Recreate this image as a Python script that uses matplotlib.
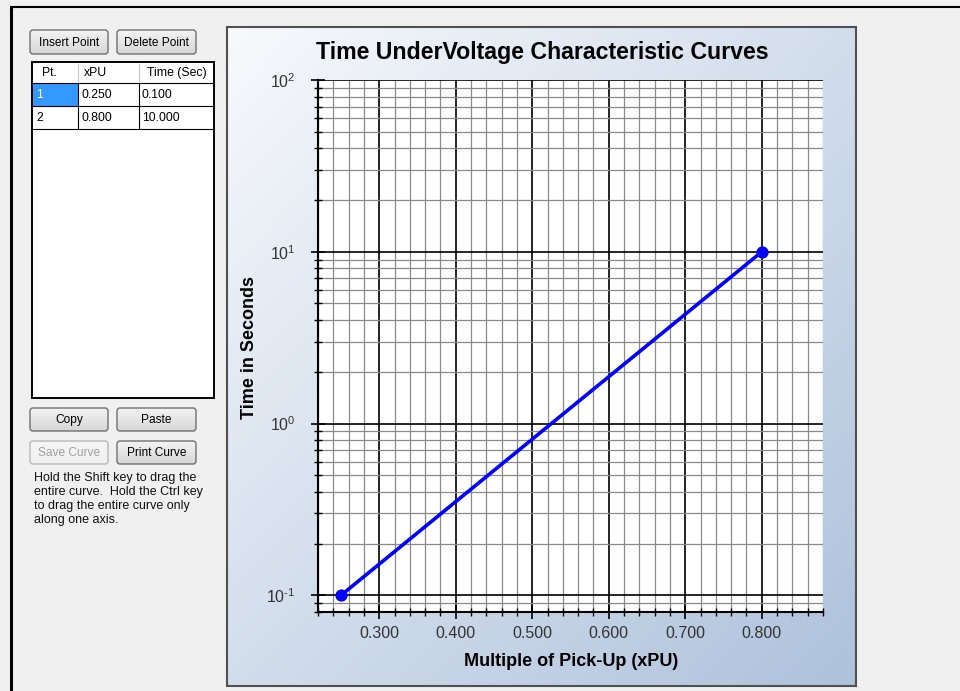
import numpy as np
import matplotlib
matplotlib.use("Agg")
import matplotlib.pyplot as plt
from matplotlib.patches import Rectangle, FancyBboxPatch
from matplotlib.colors import to_rgb
from matplotlib.ticker import FixedLocator, MultipleLocator, LogLocator, NullFormatter

plt.rcParams["font.family"] = ["Liberation Sans", "DejaVu Sans"]
plt.rcParams["mathtext.fontset"] = "custom"
plt.rcParams["mathtext.rm"] = "Liberation Sans"
plt.rcParams["mathtext.it"] = "Liberation Sans:italic"
plt.rcParams["mathtext.bf"] = "Liberation Sans:bold"

# curve points (the same ones listed in the table)
point_ids = [1, 2]
xpu = [0.250, 0.800]
seconds = [0.100, 10.000]

table_headers = ["Pt.", "xPU", "Time (Sec)"]
x_ticks = [0.3, 0.4, 0.5, 0.6, 0.7, 0.8]
x_tick_labels = ["0.300", "0.400", "0.500", "0.600", "0.700", "0.800"]
y_ticks = [0.1, 1, 10, 100]
y_tick_labels = [r"$10^{\text{-1}}$", r"$10^{0}$", r"$10^{1}$", r"$10^{2}$"]
x_limits = (0.22, 0.88)
y_limits = (0.08, 100)

title = "Time UnderVoltage Characteristic Curves"
x_label = "Multiple of Pick-Up (xPU)"
y_label = "Time in Seconds"
hint_lines = [
    "Hold the Shift key to drag the",
    "entire curve.  Hold the Ctrl key",
    "to drag the entire curve only",
    "along one axis.",
]

W, H = 960, 691
fig = plt.figure(figsize=(W / 100, H / 100), dpi=100, facecolor="#f0f0f0")

# pixel-space layer for the window decorations
ui = fig.add_axes([0, 0, 1, 1], zorder=0)
ui.axis("off")


def gradient(x0, y0, w, h, c0, c1, diagonal=True):
    c0, c1 = np.array(to_rgb(c0)), np.array(to_rgb(c1))
    u = np.linspace(0, 1, 64)
    if diagonal:
        t = (u[None, :] + u[:, None]) / 2
    else:
        t = np.repeat(u[:, None], 64, axis=1)
    img = c0 + (c1 - c0) * t[..., None]
    return ui.imshow(img, extent=(x0, x0 + w, y0 + h, y0), origin="upper",
                     aspect="auto", interpolation="bilinear", zorder=1)


def button(x, y, w, h, label, enabled=True):
    edge = "#707070" if enabled else "#b8b8b8"
    box = FancyBboxPatch((x, y), w, h, boxstyle="round,pad=0,rounding_size=3",
                         fc="none", ec=edge, lw=1, zorder=3)
    ui.add_patch(box)
    if enabled:
        im = gradient(x, y, w, h, "#f4f4f4", "#d6d6d6", diagonal=False)
    else:
        im = gradient(x, y, w, h, "#f6f6f6", "#f0f0f0", diagonal=False)
    im.set_clip_path(box)
    ui.text(x + w / 2, y + h / 2 + 0.5, label, ha="center", va="center",
            fontsize=8.6, color="#000000" if enabled else "#a0a0a0", zorder=4)


# outer window frame
ui.plot([10, 960], [7, 7], color="black", lw=1.5, solid_capstyle="butt", zorder=2)
ui.plot([11, 11], [7, 691], color="black", lw=2.2, solid_capstyle="butt", zorder=2)

# buttons
button(30, 30, 78, 24, "Insert Point")
button(117, 30, 79, 24, "Delete Point")
button(30, 408, 78, 23, "Copy")
button(117, 408, 79, 23, "Paste")
button(30, 441, 78, 23, "Save Curve", enabled=False)
button(117, 441, 79, 23, "Print Curve")

# point table
tx0, tx1, ty0, ty1 = 32, 214, 62, 398
col_x = [tx0, 78, 139, tx1]
row_y = [62, 83, 106, 129]
ui.add_patch(Rectangle((tx0, ty0), tx1 - tx0, ty1 - ty0, fc="white", ec="black", lw=1.4, zorder=2))
ui.add_patch(Rectangle((33, 84), 45, 22, fc="#3399ff", ec="none", zorder=2))
for cx in col_x[1:3]:
    ui.plot([cx, cx], [row_y[0] + 2, row_y[1]], color="#c8c8c8", lw=0.8, zorder=3)
    ui.plot([cx, cx], [row_y[1], row_y[3]], color="black", lw=0.8, zorder=3)
for ry in row_y[1:]:
    ui.plot([tx0, tx1], [ry, ry], color="black", lw=0.8, zorder=3)
header_x = [42, 84, 147]
for hx, txt in zip(header_x, table_headers):
    ui.text(hx, 73, txt, ha="left", va="center", fontsize=8.8, zorder=4)
for i, (pid, xv, tv) in enumerate(zip(point_ids, xpu, seconds)):
    yc = (row_y[i + 1] + row_y[i + 2]) / 2
    ui.text(36, yc, str(pid), ha="left", va="center", fontsize=8.8,
            color="white" if i == 0 else "black", zorder=4)
    ui.text(81, yc, f"{xv:.3f}", ha="left", va="center", fontsize=8.8, zorder=4)
    ui.text(142, yc, f"{tv:.3f}", ha="left", va="center", fontsize=8.8, zorder=4)

for i, line in enumerate(hint_lines):
    ui.text(34, 477.5 + i * 14.3, line, ha="left", va="center", fontsize=9, color="#111111")

# chart panel with gradient background
gradient(227, 27, 629, 659, "#f7f9fc", "#aec2dc")
ui.add_patch(Rectangle((227, 27), 629, 659, fc="none", ec="#505050", lw=1.5, zorder=3))

ui.text(542, 52, title, ha="center", va="center", fontsize=16.7, fontweight="bold", zorder=4)
ui.text(571, 662, x_label, ha="center", va="center", fontsize=13, fontweight="bold", zorder=4)
ui.text(250, 347, y_label, ha="center", va="center", rotation=90, fontsize=13,
        fontweight="bold", zorder=4)

ui.set_xlim(0, W)
ui.set_ylim(H, 0)

# the characteristic curve plot
ax = fig.add_axes([318 / W, 1 - 612 / H, 505 / W, 532 / H], zorder=1)
ax.set_facecolor("white")
ax.set_yscale("log")
ax.set_xlim(*x_limits)
ax.set_ylim(*y_limits)

ax.xaxis.set_major_locator(FixedLocator(x_ticks))
ax.set_xticklabels(x_tick_labels)
ax.xaxis.set_minor_locator(MultipleLocator(0.02))
ax.yaxis.set_major_locator(FixedLocator(y_ticks))
ax.set_yticklabels(y_tick_labels)
ax.yaxis.set_minor_locator(LogLocator(base=10, subs=np.arange(2, 10)))
ax.yaxis.set_minor_formatter(NullFormatter())

ax.grid(which="major", color="black", lw=1.2)
ax.grid(which="minor", color="#8a8a8a", lw=0.9)
ax.set_axisbelow(True)

ax.plot(xpu, seconds, color="#0000ff", lw=2.6, marker="o", ms=7.8, zorder=5)

for s in ["top", "right"]:
    ax.spines[s].set_visible(False)
for s in ["left", "bottom"]:
    ax.spines[s].set_linewidth(1.5)

ax.tick_params(which="major", direction="inout", length=10, width=1.2,
               labelsize=11.5, labelcolor="#333333")
ax.tick_params(axis="x", which="major", pad=5)
ax.tick_params(axis="y", which="major", pad=11)
ax.tick_params(which="minor", direction="inout", length=6, width=1.0)

fig.savefig("out.png", dpi=100, facecolor=fig.get_facecolor())
